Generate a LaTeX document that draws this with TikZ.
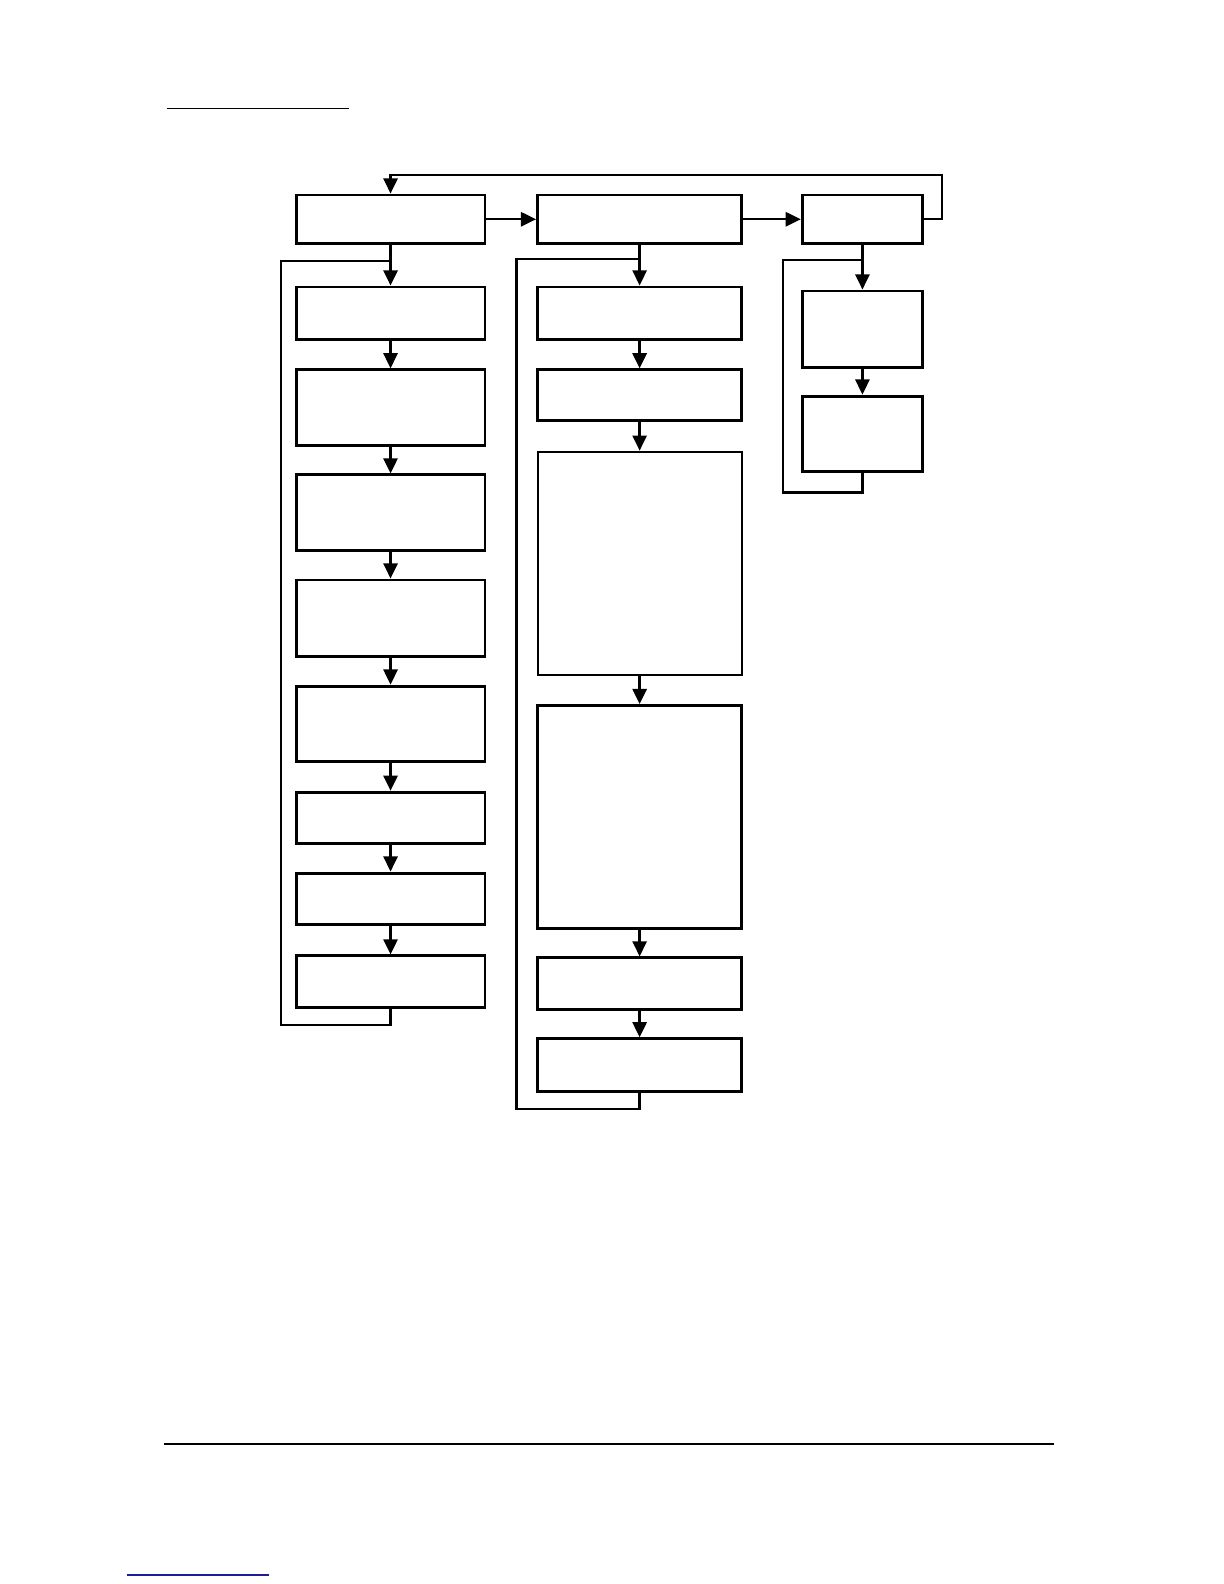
\documentclass[tikz,border=0pt]{standalone}
\usetikzlibrary{arrows.meta}
\definecolor{linkblue}{RGB}{25,30,155}
\begin{document}
\begin{tikzpicture}[x=1pt,y=-1pt,
  box/.style={draw, line width=2.9pt, inner sep=0pt},
  arr/.style={line width=2.3pt, -{Triangle[length=15pt,width=14pt]}},
  wire/.style={line width=2.3pt}]
\useasboundingbox (0,0) rectangle (1211.3,1567.6);
% page rules
\draw[line width=1pt] (165,107) -- (345,107);
\draw[line width=1.4pt] (162,1429) -- (1043,1429);
\draw[line width=1.3pt, linkblue] (125.7,1558.6) -- (266.2,1558.6);
% column 1
\node[box, minimum width=187, minimum height=48] (a0) at (386.5,217) {};
\node[box, minimum width=187, minimum height=52] (a1) at (386.5,310) {};
\node[box, minimum width=187, minimum height=75] (a2) at (386.5,403.5) {};
\node[box, minimum width=187, minimum height=75] (a3) at (386.5,507.5) {};
\node[box, minimum width=187, minimum height=76] (a4) at (386.5,612) {};
\node[box, minimum width=187, minimum height=75] (a5) at (386.5,716.5) {};
\node[box, minimum width=187, minimum height=51] (a6) at (386.5,809.5) {};
\node[box, minimum width=187, minimum height=51] (a7) at (386.5,889.5) {};
\node[box, minimum width=187, minimum height=51] (a8) at (386.5,971.5) {};
% column 2
\node[box, minimum width=202, minimum height=48] (b0) at (633,217) {};
\node[box, minimum width=202, minimum height=52] (b1) at (633,310) {};
\node[box, minimum width=202, minimum height=50] (b2) at (633,391) {};
\node[box, minimum width=202, minimum height=221, line width=2pt] (b3) at (633,557.5) {};
\node[box, minimum width=202, minimum height=221, line width=2.4pt] (b4) at (633,808.5) {};
\node[box, minimum width=202, minimum height=51] (b5) at (633,973.5) {};
\node[box, minimum width=202, minimum height=52] (b6) at (633,1054) {};
% column 3
\node[box, minimum width=119, minimum height=48] (c0) at (853.5,217) {};
\node[box, minimum width=119, minimum height=76] (c1) at (853.5,326) {};
\node[box, minimum width=119, minimum height=75] (c2) at (853.5,429.5) {};
% coordinates
\coordinate (tr) at (932,173);
\coordinate (la) at (278,258);
\coordinate (lb) at (511,256);
\coordinate (lc) at (775,257);
% top row arrows
\draw[arr] (a0.east) -- (b0.west);
\draw[arr] (b0.east) -- (c0.west);
\draw[arr] (c0.east) -- (c0.east -| tr) -- (tr) -- (tr -| a0.north) -- (a0.north);
% column 1 arrows
\draw[arr] (a0.south) -- (a1.north);
\draw[arr] (a1.south) -- (a2.north);
\draw[arr] (a2.south) -- (a3.north);
\draw[arr] (a3.south) -- (a4.north);
\draw[arr] (a4.south) -- (a5.north);
\draw[arr] (a5.south) -- (a6.north);
\draw[arr] (a6.south) -- (a7.north);
\draw[arr] (a7.south) -- (a8.north);
\draw[wire] (a8.south) -- ++(0,16) -| (la) -- (la -| a0.south);
% column 2 arrows
\draw[arr] (b0.south) -- (b1.north);
\draw[arr] (b1.south) -- (b2.north);
\draw[arr] (b2.south) -- (b3.north);
\draw[arr] (b3.south) -- (b4.north);
\draw[arr] (b4.south) -- (b5.north);
\draw[arr] (b5.south) -- (b6.north);
\draw[wire] (b6.south) -- ++(0,16) -| (lb) -- (lb -| b0.south);
% column 3 arrows
\draw[arr] (c0.south) -- (c1.north);
\draw[arr] (c1.south) -- (c2.north);
\draw[wire] (c2.south) -- ++(0,19) -| (lc) -- (lc -| c0.south);
\end{tikzpicture}
\end{document}
